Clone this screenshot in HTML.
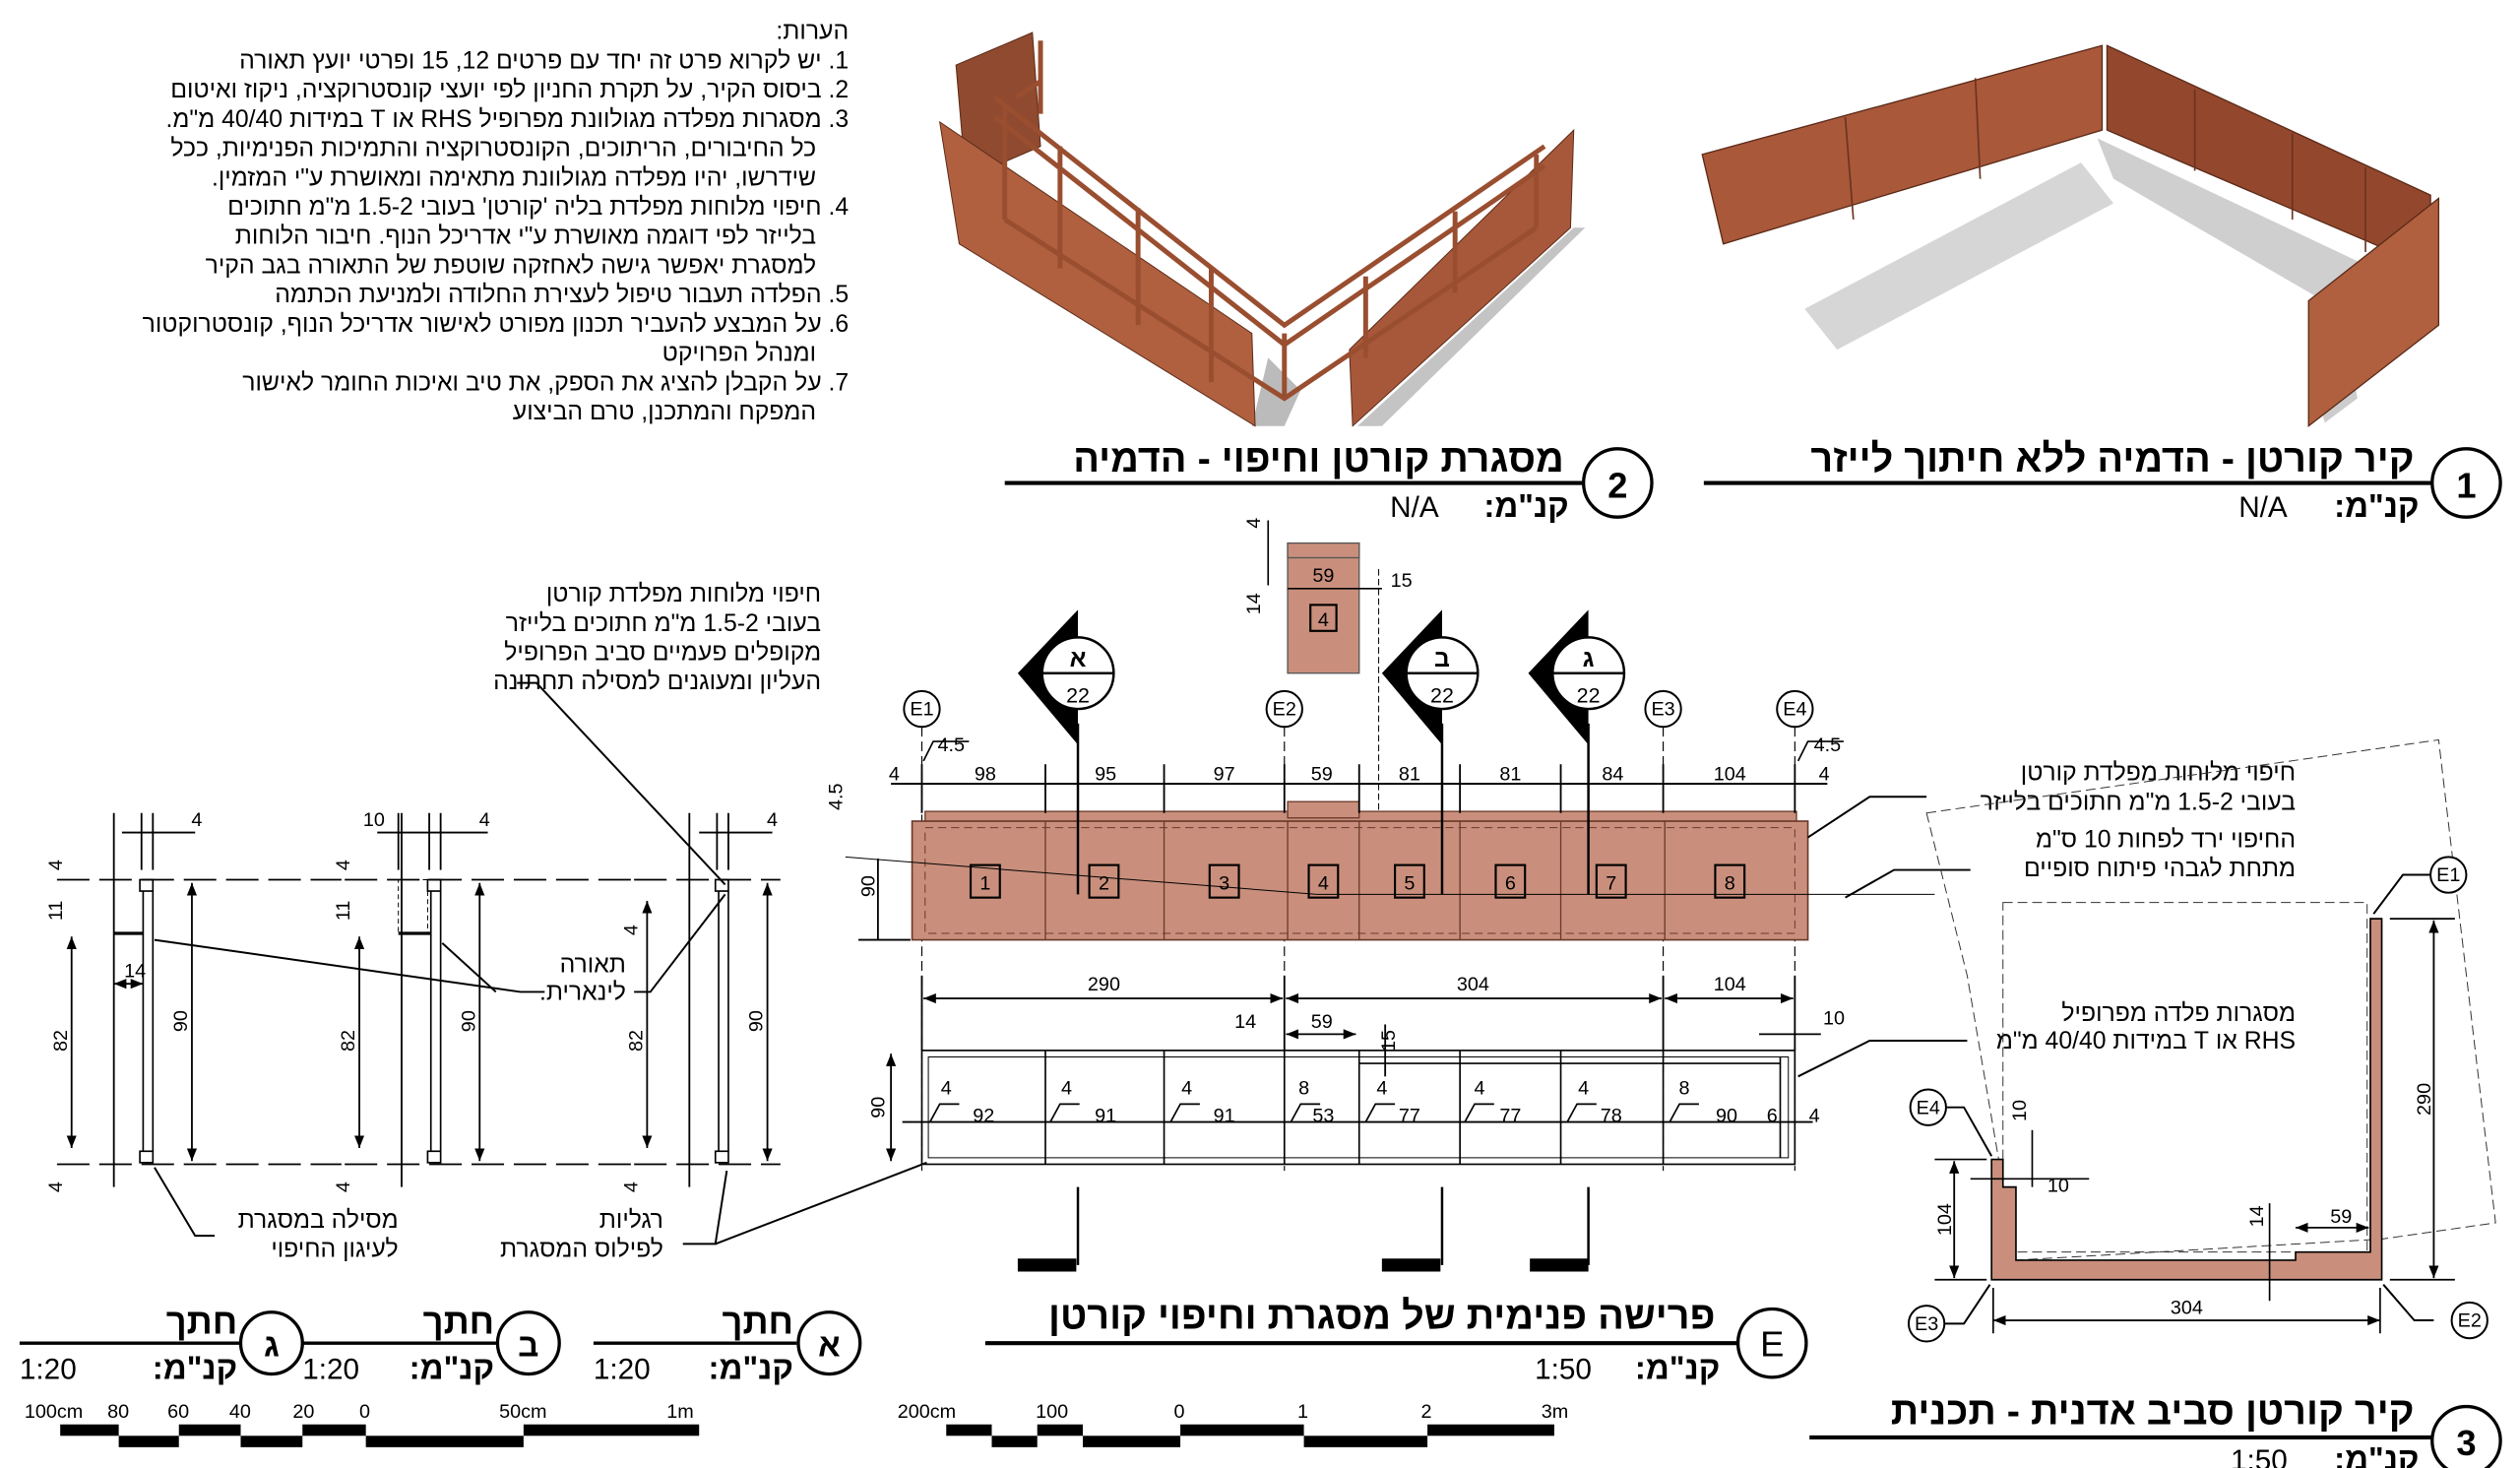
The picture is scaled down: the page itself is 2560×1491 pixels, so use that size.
<!DOCTYPE html>
<html><head><meta charset="utf-8"><style>
html,body{margin:0;padding:0;background:#fff;width:2560px;height:1491px;overflow:hidden}
svg{display:block}
text{font-family:"Liberation Sans","DejaVu Sans",sans-serif;fill:#000}
.h{direction:rtl;unicode-bidi:embed}
.n{font-size:15px}
.d{font-size:12px}
.t{font-size:24px;font-weight:bold}
</style></head><body>
<svg width="2560" height="1491" viewBox="0 0 1550 902.8" xmlns="http://www.w3.org/2000/svg">
<defs>
<marker id="a" viewBox="0 0 10 10" refX="10" refY="5" markerWidth="7" markerHeight="7" orient="auto-start-reverse"><path d="M0,1 L10,5 L0,9 z" fill="#000"/></marker>
</defs>
<rect x="0" y="0" width="1550" height="903" fill="#fff"/>

<!-- NOTES -->
<g class="n">
<text class="h" x="522" y="24" text-anchor="start">הערות:</text>
<text class="h" x="522" y="42" text-anchor="start">1. יש לקרוא פרט זה יחד עם פרטים 12, 15 ופרטי יועץ תאורה</text>
<text class="h" x="522" y="60" text-anchor="start">2. ביסוס הקיר, על תקרת החניון לפי יועצי קונסטרוקציה, ניקוז ואיטום</text>
<text class="h" x="522" y="78" text-anchor="start">3. מסגרות מפלדה מגולוונת מפרופיל RHS או T במידות 40/40 מ"מ.</text>
<text class="h" x="502" y="96" text-anchor="start">כל החיבורים, הריתוכים, הקונסטרוקציה והתמיכות הפנימיות, ככל</text>
<text class="h" x="502" y="114" text-anchor="start">שידרשו, יהיו מפלדה מגולוונת מתאימה ומאושרת ע"י המזמין.</text>
<text class="h" x="522" y="132" text-anchor="start">4. חיפוי מלוחות מפלדת בליה 'קורטן' בעובי 1.5-2 מ"מ חתוכים</text>
<text class="h" x="502" y="150" text-anchor="start">בלייזר לפי דוגמה מאושרת ע"י אדריכל הנוף. חיבור הלוחות</text>
<text class="h" x="502" y="168" text-anchor="start">למסגרת יאפשר גישה לאחזקה שוטפת של התאורה בגב הקיר</text>
<text class="h" x="522" y="186" text-anchor="start">5. הפלדה תעבור טיפול לעצירת החלודה ולמניעת הכתמה</text>
<text class="h" x="522" y="204" text-anchor="start">6. על המבצע להעביר תכנון מפורט לאישור אדריכל הנוף, קונסטרוקטור</text>
<text class="h" x="502" y="222" text-anchor="start">ומנהל הפרויקט</text>
<text class="h" x="522" y="240" text-anchor="start">7. על הקבלן להציג את הספק, את טיב ואיכות החומר לאישור</text>
<text class="h" x="502" y="258" text-anchor="start">המפקח והמתכנן, טרם הביצוע</text>
</g>

<!-- RENDER 2 -->
<polygon points="770,262 790,262 800,240 780,220" fill="#bbb"/>
<polygon points="835,262 850,262 975,140 968,140" fill="#c4c4c4"/>
<g stroke="#5a2a18" stroke-width="0.6">
<polygon points="588,40 635,20 640,90 594,110" fill="#8f4a30"/>
<polygon points="578,75 770,205 772,262 590,150" fill="#b0603f"/>
<polygon points="830,215 968,80 966,140 832,262" fill="#a8583a"/>
</g>
<g fill="none" stroke="#9a4e30" stroke-width="3">
<polyline points="612,60 790,200 950,90"/>
<polyline points="612,72 790,212 950,102"/>
<line x1="618" y1="65" x2="618" y2="135"/><line x1="652" y1="90" x2="652" y2="165"/>
<line x1="700" y1="128" x2="700" y2="200"/><line x1="745" y1="165" x2="745" y2="235"/>
<line x1="790" y1="205" x2="790" y2="245"/><line x1="840" y1="170" x2="840" y2="220"/>
<line x1="895" y1="130" x2="895" y2="180"/><line x1="945" y1="95" x2="945" y2="140"/>
<polyline points="618,135 790,245 945,140"/>
<line x1="640" y1="25" x2="640" y2="70" /><line x1="625" y1="60" x2="640" y2="50"/>
</g>

<!-- RENDER 1 -->
<polygon points="1290,85 1300,110 1455,200 1470,170" fill="#cfcfcf"/>
<polygon points="1110,190 1280,100 1300,125 1130,215" fill="#d6d6d6"/>
<polygon points="1420,225 1430,260 1450,245 1445,215" fill="#ccc"/>
<g stroke="#5a2a18" stroke-width="0.8">
<polygon points="1047,95 1293,28 1293,80 1060,150" fill="#a9583a"/>
<polygon points="1296,28 1495,120 1495,165 1296,80" fill="#93472d"/>
<polygon points="1420,185 1500,122 1500,200 1420,262" fill="#b0603f"/>
</g>
<g stroke="#6a3320" stroke-width="1"><line x1="1135" y1="72" x2="1140" y2="135"/><line x1="1215" y1="48" x2="1218" y2="110"/><line x1="1350" y1="55" x2="1350" y2="105"/><line x1="1410" y1="82" x2="1410" y2="135"/><line x1="1455" y1="103" x2="1455" y2="155"/></g>

<!-- TITLES 1,2 -->
<text class="h t" x="962" y="290" text-anchor="start">מסגרת קורטן וחיפוי - הדמיה</text>
<line x1="618" y1="297" x2="974" y2="297" stroke="#000" stroke-width="2.5"/>
<circle cx="995" cy="297" r="21" fill="#fff" stroke="#000" stroke-width="2"/>
<text x="995" y="306" text-anchor="middle" font-size="22" font-weight="bold">2</text>
<text class="h" x="965" y="318" text-anchor="start" font-size="20" font-weight="bold">קנ"מ:</text>
<text x="855" y="318" font-size="18">N/A</text>
<text class="h t" x="1485" y="290" text-anchor="start">קיר קורטן - הדמיה ללא חיתוך לייזר</text>
<line x1="1048" y1="297" x2="1496" y2="297" stroke="#000" stroke-width="2.5"/>
<circle cx="1517" cy="297" r="21" fill="#fff" stroke="#000" stroke-width="2"/>
<text x="1517" y="306" text-anchor="middle" font-size="22" font-weight="bold">1</text>
<text class="h" x="1488" y="318" text-anchor="start" font-size="20" font-weight="bold">קנ"מ:</text>
<text x="1377" y="318" font-size="18">N/A</text>

<!-- TOP DETAIL -->
<rect x="792" y="334" width="44" height="80" fill="#c98f7c" stroke="#555" stroke-width="0.8"/>
<rect x="792" y="334" width="44" height="9" fill="#c98f7c" stroke="#555" stroke-width="0.8"/>
<rect x="806" y="372" width="16" height="16" fill="none" stroke="#000" stroke-width="1.3"/>
<text x="814" y="385" text-anchor="middle" class="d">4</text>
<text x="814" y="358" text-anchor="middle" class="d">59</text>
<text x="862" y="361" text-anchor="middle" class="d">15</text>
<text x="775" y="325" class="d" transform="rotate(-90 775 325)">4</text>
<text x="775" y="378" class="d" transform="rotate(-90 775 378)">14</text>
<line x1="780" y1="320" x2="780" y2="360" stroke="#000"/>
<line x1="792" y1="362" x2="850" y2="362" stroke="#000"/>
<line x1="848" y1="350" x2="848" y2="500" stroke="#000" stroke-dasharray="4 2" stroke-width="0.6"/>

<!-- ELEVATION -->
<g stroke="#000" stroke-width="0.7" fill="none">
<line x1="567" y1="447" x2="567" y2="720" stroke-dasharray="6 3"/>
<line x1="790" y1="447" x2="790" y2="720" stroke-dasharray="6 3"/>
<line x1="1023" y1="447" x2="1023" y2="720" stroke-dasharray="6 3"/>
<line x1="1104" y1="447" x2="1104" y2="720" stroke-dasharray="6 3"/>
</g>
<rect x="569" y="499" width="536" height="8" fill="#c98f7c" stroke="#6a3a2a" stroke-width="0.8"/>
<rect x="792" y="493" width="44" height="10" fill="#c98f7c" stroke="#6a3a2a" stroke-width="0.8"/>
<rect x="561" y="505" width="551" height="73" fill="#c98f7c" stroke="#6a3a2a" stroke-width="1"/>
<g stroke="#6a3a2a" stroke-width="0.8">
<line x1="643" y1="505" x2="643" y2="578"/><line x1="716" y1="505" x2="716" y2="578"/>
<line x1="792" y1="505" x2="792" y2="578"/><line x1="836" y1="505" x2="836" y2="578"/>
<line x1="898" y1="505" x2="898" y2="578"/><line x1="960" y1="505" x2="960" y2="578"/>
<line x1="1024" y1="505" x2="1024" y2="578"/>
</g>
<rect x="569" y="509" width="535" height="65" fill="none" stroke="#6a3a2a" stroke-dasharray="5 3" stroke-width="0.6"/>
<g stroke="#000" stroke-width="1.3" fill="none">
<rect x="597" y="532" width="18" height="20"/><rect x="670" y="532" width="18" height="20"/>
<rect x="744" y="532" width="18" height="20"/><rect x="805" y="532" width="18" height="20"/>
<rect x="858" y="532" width="18" height="20"/><rect x="920" y="532" width="18" height="20"/>
<rect x="982" y="532" width="18" height="20"/><rect x="1055" y="532" width="18" height="20"/>
</g>
<g class="d" text-anchor="middle">
<text x="606" y="547">1</text><text x="679" y="547">2</text><text x="753" y="547">3</text><text x="814" y="547">4</text>
<text x="867" y="547">5</text><text x="929" y="547">6</text><text x="991" y="547">7</text><text x="1064" y="547">8</text>
</g>
<line x1="520" y1="527" x2="810" y2="550" stroke="#000" stroke-width="0.6"/>
<line x1="810" y1="550" x2="1190" y2="550" stroke="#000" stroke-width="0.6"/>
<!-- top dims -->
<g stroke="#000" stroke-width="1.1">
<line x1="548" y1="482" x2="1124" y2="482"/>
<line x1="567" y1="470" x2="567" y2="500"/><line x1="643" y1="470" x2="643" y2="500"/><line x1="716" y1="470" x2="716" y2="500"/>
<line x1="790" y1="470" x2="790" y2="500"/><line x1="836" y1="470" x2="836" y2="500"/><line x1="898" y1="470" x2="898" y2="500"/>
<line x1="960" y1="470" x2="960" y2="500"/><line x1="1023" y1="470" x2="1023" y2="500"/><line x1="1104" y1="470" x2="1104" y2="500"/>
<line x1="540" y1="528" x2="540" y2="578"/><line x1="528" y1="578" x2="560" y2="578"/>
</g>
<g class="d" text-anchor="middle">
<text x="606" y="480">98</text><text x="680" y="480">95</text><text x="753" y="480">97</text><text x="813" y="480">59</text>
<text x="867" y="480">81</text><text x="929" y="480">81</text><text x="992" y="480">84</text><text x="1064" y="480">104</text>
<text x="550" y="480">4</text><text x="585" y="462">4.5</text><text x="1124" y="462">4.5</text><text x="1122" y="480">4</text>
<text x="538" y="545" transform="rotate(-90 538 545)">90</text>
<text x="518" y="490" transform="rotate(-90 518 490)">4.5</text>
</g>
<!-- E markers -->
<g stroke="#000" stroke-width="1.2" fill="#fff">
<circle cx="567" cy="436" r="11"/><circle cx="790" cy="436" r="11"/><circle cx="1023" cy="436" r="11"/><circle cx="1104" cy="436" r="11"/>
</g>
<g class="d" text-anchor="middle"><text x="567" y="440">E1</text><text x="790" y="440">E2</text><text x="1023" y="440">E3</text><text x="1104" y="440">E4</text></g>
<g stroke="#000" stroke-width="1.5">
<line x1="663" y1="445" x2="663" y2="550"/><line x1="887" y1="445" x2="887" y2="550"/><line x1="977" y1="445" x2="977" y2="550"/>
<line x1="663" y1="730" x2="663" y2="778"/><line x1="887" y1="730" x2="887" y2="778"/><line x1="977" y1="730" x2="977" y2="778"/>
</g>
<g fill="#000">
<polygon points="663,375 626,414 663,458"/><polygon points="887,375 850,414 887,458"/><polygon points="977,375 940,414 977,458"/>
<rect x="626" y="774" width="36" height="8"/><rect x="850" y="774" width="36" height="8"/><rect x="941" y="774" width="36" height="8"/>
</g>
<g stroke="#000" stroke-width="1.5" fill="#fff">
<circle cx="663" cy="414" r="22"/><circle cx="887" cy="414" r="22"/><circle cx="977" cy="414" r="22"/>
</g>
<g stroke="#000" stroke-width="1.5"><line x1="641" y1="414" x2="685" y2="414"/><line x1="865" y1="414" x2="909" y2="414"/><line x1="955" y1="414" x2="999" y2="414"/></g>
<g text-anchor="middle">
<text x="663" y="410" font-size="15" font-weight="bold">א</text><text x="887" y="410" font-size="15" font-weight="bold">ב</text><text x="977" y="410" font-size="15" font-weight="bold">ג</text>
<text x="663" y="432" font-size="13">22</text><text x="887" y="432" font-size="13">22</text><text x="977" y="432" font-size="13">22</text>
</g>

<!-- FRAME ELEVATION -->
<g stroke="#000" stroke-width="1" fill="none">
<rect x="567" y="646" width="537" height="70"/>
<rect x="571" y="650" width="529" height="62" stroke-width="0.6"/>
<line x1="643" y1="646" x2="643" y2="716"/><line x1="716" y1="646" x2="716" y2="716"/>
<line x1="790" y1="646" x2="790" y2="716"/><line x1="836" y1="646" x2="836" y2="716"/>
<line x1="898" y1="646" x2="898" y2="716"/><line x1="960" y1="646" x2="960" y2="716"/>
<line x1="1023" y1="646" x2="1023" y2="716"/><line x1="1095" y1="650" x2="1095" y2="712"/>
<line x1="836" y1="654" x2="1095" y2="654"/>
</g>
<g stroke="#000" stroke-width="1.1" marker-start="url(#a)" marker-end="url(#a)">
<line x1="568" y1="614" x2="789" y2="614"/><line x1="791" y1="614" x2="1022" y2="614"/><line x1="1024" y1="614" x2="1103" y2="614"/>
<line x1="548" y1="648" x2="548" y2="714"/>
<line x1="791" y1="636" x2="834" y2="636"/>
</g>
<g stroke="#000" stroke-width="1.1">
<line x1="567" y1="600" x2="567" y2="646"/><line x1="790" y1="600" x2="790" y2="646"/><line x1="1023" y1="600" x2="1023" y2="646"/><line x1="1104" y1="600" x2="1104" y2="646"/>
<line x1="555" y1="690" x2="1115" y2="690"/>
<line x1="852" y1="630" x2="852" y2="662"/>
<line x1="1082" y1="636" x2="1120" y2="636"/>
</g>
<g class="d" text-anchor="middle">
<text x="679" y="609">290</text><text x="906" y="609">304</text><text x="1064" y="609">104</text>
<text x="766" y="632">14</text><text x="813" y="632">59</text><text x="1128" y="630">10</text>
<text x="858" y="640" transform="rotate(-90 858 640)">15</text>
<text x="544" y="681" transform="rotate(-90 544 681)">90</text>
<text x="605" y="690">92</text><text x="680" y="690">91</text><text x="753" y="690">91</text><text x="814" y="690">53</text>
<text x="867" y="690">77</text><text x="929" y="690">77</text><text x="991" y="690">78</text><text x="1062" y="690">90</text><text x="1090" y="690">6</text><text x="1116" y="690">4</text>
<text x="582" y="673">4</text><text x="656" y="673">4</text><text x="730" y="673">4</text><text x="802" y="673">8</text>
<text x="850" y="673">4</text><text x="910" y="673">4</text><text x="974" y="673">4</text><text x="1036" y="673">8</text>
</g>
<g stroke="#000" stroke-width="1" fill="none">
<polyline points="572,690 578,679 590,679"/><polyline points="646,690 652,679 664,679"/><polyline points="720,690 726,679 738,679"/>
<polyline points="794,690 800,679 812,679"/><polyline points="840,690 846,679 858,679"/><polyline points="901,690 907,679 919,679"/>
<polyline points="964,690 970,679 982,679"/><polyline points="1027,690 1033,679 1045,679"/>
<polyline points="568,468 574,456 596,456"/><polyline points="1106,468 1112,456 1134,456"/>
</g>

<!-- leaders right -->
<g stroke="#000" stroke-width="1.2" fill="none">
<polyline points="1185,490 1150,490 1112,515"/>
<polyline points="1212,535 1165,535 1135,552"/>
<polyline points="1210,640 1150,640 1106,662"/>
</g>
<g font-size="15">
<text class="h" x="1412" y="480" text-anchor="start">חיפוי מלוחות מפלדת קורטן</text>
<text class="h" x="1412" y="498" text-anchor="start">בעובי 1.5-2 מ"מ חתוכים בלייזר</text>
<text class="h" x="1412" y="521" text-anchor="start">החיפוי ירד לפחות 10 ס"מ</text>
<text class="h" x="1412" y="539" text-anchor="start">מתחת לגבהי פיתוח סופיים</text>
<text class="h" x="1412" y="628" text-anchor="start">מסגרות פלדה מפרופיל</text>
<text class="h" x="1412" y="645" text-anchor="start">RHS או T במידות 40/40 מ"מ</text>
</g>

<!-- PLAN 3 -->
<polygon points="1185,500 1500,455 1535,752 1465,762 1240,775 1210,600" fill="none" stroke="#333" stroke-width="0.6" stroke-dasharray="6 3"/>
<rect x="1232" y="555" width="224" height="215" fill="none" stroke="#333" stroke-width="0.6" stroke-dasharray="6 3"/>
<polygon points="1225,713 1232,713 1232,730 1240,730 1240,775 1412,775 1412,770 1458,770 1458,565 1465,565 1465,787 1225,787" fill="#c98f7c" stroke="#000" stroke-width="1"/>
<g stroke="#000" stroke-width="1.1" marker-start="url(#a)" marker-end="url(#a)">
<line x1="1497" y1="566" x2="1497" y2="786"/>
<line x1="1202" y1="714" x2="1202" y2="786"/>
<line x1="1226" y1="812" x2="1464" y2="812"/>
<line x1="1412" y1="755" x2="1457" y2="755"/>
</g>
<g stroke="#000" stroke-width="1">
<line x1="1470" y1="565" x2="1510" y2="565"/><line x1="1470" y1="787" x2="1510" y2="787"/>
<line x1="1190" y1="713" x2="1222" y2="713"/><line x1="1190" y1="787" x2="1222" y2="787"/>
<line x1="1226" y1="792" x2="1226" y2="820"/><line x1="1464" y1="792" x2="1464" y2="820"/>
<line x1="1396" y1="740" x2="1396" y2="800"/><line x1="1250" y1="695" x2="1250" y2="730"/>
<line x1="1212" y1="725" x2="1285" y2="725"/>
</g>
<g class="d" text-anchor="middle">
<text x="1345" y="808">304</text><text x="1440" y="752">59</text><text x="1266" y="733">10</text>
<text x="1495" y="676" transform="rotate(-90 1495 676)">290</text>
<text x="1200" y="750" transform="rotate(-90 1200 750)">104</text>
<text x="1392" y="748" transform="rotate(-90 1392 748)">14</text>
<text x="1246" y="683" transform="rotate(-90 1246 683)">10</text>
</g>
<g stroke="#000" stroke-width="1.2" fill="none">
<polyline points="1496,538 1478,538 1460,562"/><polyline points="1497,812 1485,812 1466,790"/>
<polyline points="1196,814 1208,814 1224,790"/><polyline points="1197,681 1208,681 1225,711"/>
</g>
<g stroke="#000" stroke-width="1.2" fill="#fff">
<circle cx="1506" cy="538" r="11"/><circle cx="1519" cy="812" r="11"/><circle cx="1185" cy="814" r="11"/><circle cx="1186" cy="681" r="11"/>
</g>
<g class="d" text-anchor="middle"><text x="1506" y="542">E1</text><text x="1519" y="816">E2</text><text x="1185" y="818">E3</text><text x="1186" y="685">E4</text></g>
<text class="h t" x="1485" y="876" text-anchor="start">קיר קורטן סביב אדנית - תכנית</text>
<line x1="1113" y1="884" x2="1496" y2="884" stroke="#000" stroke-width="2.5"/>
<circle cx="1517" cy="886" r="21" fill="#fff" stroke="#000" stroke-width="2"/>
<text x="1517" y="895" text-anchor="middle" font-size="22" font-weight="bold">3</text>
<text class="h" x="1488" y="904" text-anchor="start" font-size="20" font-weight="bold">קנ"מ:</text>
<text x="1372" y="904" font-size="18">1:50</text>

<!-- TITLE E -->
<text class="h t" x="1055" y="817" text-anchor="start">פרישה פנימית של מסגרת וחיפוי קורטן</text>
<line x1="606" y1="826" x2="1070" y2="826" stroke="#000" stroke-width="2.5"/>
<circle cx="1090" cy="826" r="21" fill="#fff" stroke="#000" stroke-width="2"/>
<text x="1090" y="834" text-anchor="middle" font-size="22">E</text>
<text class="h" x="1058" y="848" text-anchor="start" font-size="20" font-weight="bold">קנ"מ:</text>
<text x="944" y="848" font-size="18">1:50</text>
<!-- scale bar middle -->
<g fill="#000">
<rect x="582" y="876" width="28" height="7"/><rect x="610" y="883" width="28" height="7"/><rect x="638" y="876" width="28" height="7"/>
<rect x="666" y="883" width="60" height="7"/><rect x="726" y="876" width="76" height="7"/><rect x="802" y="883" width="76" height="7"/><rect x="878" y="876" width="78" height="7"/>
</g>
<g class="d"><text x="552" y="872">200cm</text><text x="637" y="872">100</text><text x="722" y="872">0</text><text x="798" y="872">1</text><text x="874" y="872">2</text><text x="948" y="872">3m</text></g>

<!-- SECTIONS -->
<g stroke="#000" stroke-width="1" fill="none">
<rect x="86" y="541" width="8" height="7"/><rect x="86" y="708" width="8" height="7"/>
<line x1="88" y1="548" x2="88" y2="708"/><line x1="94" y1="548" x2="94" y2="708"/>
<line x1="70" y1="574" x2="88" y2="574" stroke-width="2"/>
<rect x="263" y="541" width="8" height="7"/><rect x="263" y="708" width="8" height="7"/>
<line x1="265" y1="548" x2="265" y2="708"/><line x1="271" y1="548" x2="271" y2="708"/>
<rect x="245" y="541" width="18" height="33" stroke-dasharray="3 2" stroke-width="0.6"/>
<line x1="245" y1="574" x2="265" y2="574" stroke-width="2"/>
<rect x="440" y="541" width="8" height="7"/><rect x="440" y="708" width="8" height="7"/>
<line x1="442" y1="548" x2="442" y2="708"/><line x1="448" y1="548" x2="448" y2="708"/>
</g>
<g stroke="#000" stroke-width="1.1">
<line x1="35" y1="541" x2="210" y2="541" stroke-dasharray="20 6"/><line x1="35" y1="716" x2="210" y2="716" stroke-dasharray="20 6"/>
<line x1="212" y1="541" x2="390" y2="541" stroke-dasharray="20 6"/><line x1="212" y1="716" x2="390" y2="716" stroke-dasharray="20 6"/>
<line x1="390" y1="541" x2="480" y2="541" stroke-dasharray="20 6"/><line x1="390" y1="716" x2="480" y2="716" stroke-dasharray="20 6"/>
<line x1="70" y1="500" x2="70" y2="730"/><line x1="247" y1="500" x2="247" y2="730"/><line x1="424" y1="500" x2="424" y2="730"/>
<line x1="87" y1="500" x2="87" y2="535"/><line x1="94" y1="500" x2="94" y2="535"/>
<line x1="264" y1="500" x2="264" y2="535"/><line x1="271" y1="500" x2="271" y2="535"/><line x1="245" y1="500" x2="245" y2="535"/>
<line x1="441" y1="500" x2="441" y2="535"/><line x1="448" y1="500" x2="448" y2="535"/>
<line x1="75" y1="512" x2="120" y2="512"/><line x1="232" y1="512" x2="300" y2="512"/><line x1="430" y1="512" x2="475" y2="512"/>
</g>
<g stroke="#000" stroke-width="1.1" marker-start="url(#a)" marker-end="url(#a)">
<line x1="118" y1="543" x2="118" y2="714"/><line x1="295" y1="543" x2="295" y2="714"/><line x1="472" y1="543" x2="472" y2="714"/>
<line x1="44" y1="576" x2="44" y2="706"/><line x1="221" y1="576" x2="221" y2="706"/><line x1="398" y1="554" x2="398" y2="706"/>
<line x1="70" y1="605" x2="88" y2="605"/>
</g>
<g class="d" text-anchor="middle">
<text x="121" y="508">4</text><text x="298" y="508">4</text><text x="475" y="508">4</text><text x="230" y="508">10</text>
<text x="83" y="601">14</text>
<text x="115" y="628" transform="rotate(-90 115 628)">90</text><text x="292" y="628" transform="rotate(-90 292 628)">90</text><text x="469" y="628" transform="rotate(-90 469 628)">90</text>
<text x="41" y="640" transform="rotate(-90 41 640)">82</text><text x="218" y="640" transform="rotate(-90 218 640)">82</text><text x="395" y="640" transform="rotate(-90 395 640)">82</text>
<text x="38" y="532" transform="rotate(-90 38 532)">4</text><text x="38" y="560" transform="rotate(-90 38 560)">11</text><text x="38" y="730" transform="rotate(-90 38 730)">4</text>
<text x="215" y="532" transform="rotate(-90 215 532)">4</text><text x="215" y="560" transform="rotate(-90 215 560)">11</text><text x="215" y="730" transform="rotate(-90 215 730)">4</text>
<text x="392" y="572" transform="rotate(-90 392 572)">4</text><text x="392" y="730" transform="rotate(-90 392 730)">4</text>
</g>
<g stroke="#000" stroke-width="1.2" fill="none">
<polyline points="318,420 330,420 446,544"/>
<polyline points="95,578 320,610 335,610"/><polyline points="272,580 305,610"/><polyline points="390,610 400,610 446,550"/>
<polyline points="95,718 120,760 132,760"/>
<polyline points="420,765 440,765 447,720"/><polyline points="440,765 570,715"/>
</g>
<g font-size="15">
<text class="h" x="505" y="370" text-anchor="start">חיפוי מלוחות מפלדת קורטן</text>
<text class="h" x="505" y="388" text-anchor="start">בעובי 1.5-2 מ"מ חתוכים בלייזר</text>
<text class="h" x="505" y="406" text-anchor="start">מקופלים פעמיים סביב הפרופיל</text>
<text class="h" x="505" y="424" text-anchor="start">העליון ומעוגנים למסילה תחתונה</text>
<text class="h" x="385" y="598" text-anchor="start">תאורה</text>
<text class="h" x="385" y="615" text-anchor="start">לינארית.</text>
<text class="h" x="245" y="755" text-anchor="start">מסילה במסגרת</text>
<text class="h" x="245" y="773" text-anchor="start">לעיגון החיפוי</text>
<text class="h" x="408" y="755" text-anchor="start">רגליות</text>
<text class="h" x="408" y="773" text-anchor="start">לפילוס המסגרת</text>
</g>
<g>
<line x1="12" y1="826" x2="148" y2="826" stroke="#000" stroke-width="2"/>
<line x1="180" y1="826" x2="306" y2="826" stroke="#000" stroke-width="2"/>
<line x1="365" y1="826" x2="490" y2="826" stroke="#000" stroke-width="2"/>
<g stroke="#000" stroke-width="2" fill="#fff"><circle cx="167" cy="826" r="19"/><circle cx="325" cy="826" r="19"/><circle cx="510" cy="826" r="19"/></g>
<g text-anchor="middle" font-size="20" font-weight="bold"><text x="167" y="834">ג</text><text x="325" y="834">ב</text><text x="510" y="834">א</text></g>
<g class="h" font-size="22" font-weight="bold" text-anchor="start"><text x="146" y="820">חתך</text><text x="304" y="820">חתך</text><text x="488" y="820">חתך</text></g>
<g class="h" font-size="20" font-weight="bold" text-anchor="start"><text x="146" y="848">קנ"מ:</text><text x="304" y="848">קנ"מ:</text><text x="488" y="848">קנ"מ:</text></g>
<g font-size="18"><text x="12" y="848">1:20</text><text x="186" y="848">1:20</text><text x="365" y="848">1:20</text></g>
</g>
<!-- section scale bar -->
<g fill="#000">
<rect x="37" y="876" width="36" height="7"/><rect x="73" y="883" width="37" height="7"/><rect x="110" y="876" width="38" height="7"/>
<rect x="148" y="883" width="38" height="7"/><rect x="186" y="876" width="39" height="7"/><rect x="225" y="883" width="97" height="7"/><rect x="322" y="876" width="108" height="7"/>
</g>
<g class="d"><text x="15" y="872">100cm</text><text x="66" y="872">80</text><text x="103" y="872">60</text><text x="141" y="872">40</text><text x="180" y="872">20</text><text x="221" y="872">0</text><text x="307" y="872">50cm</text><text x="410" y="872">1m</text></g>
</svg>
</body></html>
